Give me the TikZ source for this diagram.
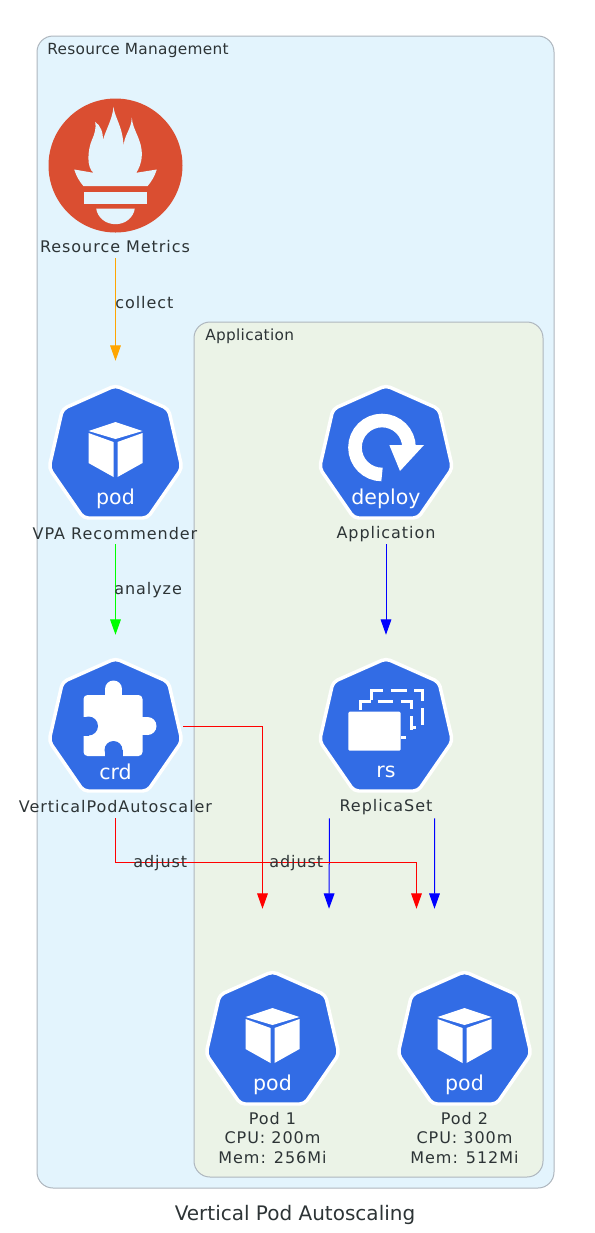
\documentclass[tikz,border=0pt]{standalone}
\usepackage{fontspec}
\setmainfont{DejaVu Sans}
\newfontfamily\widefont[LetterSpace=6]{DejaVu Sans}
\newfontfamily\clusterfont[LetterSpace=2]{DejaVu Sans}
\usetikzlibrary{arrows.meta}

\definecolor{kubeblue}{HTML}{326CE5}
\definecolor{promred}{HTML}{DA4E31}
\definecolor{outerfill}{HTML}{E3F4FD}
\definecolor{innerfill}{HTML}{EBF3E7}
\definecolor{clusterline}{HTML}{AEB6BE}
\definecolor{textgray}{HTML}{2D3436}
\definecolor{collectline}{HTML}{FFA500}

\tikzset{
  cluster/.style={draw=clusterline,line width=0.75pt,rounded corners=12pt},
  clustertext/.style={anchor=west,inner sep=0pt,text=textgray,font=\clusterfont\fontsize{11.5}{13}\selectfont},
  nodetext/.style={align=center,inner sep=0pt,text=textgray,font=\widefont\fontsize{12}{14.3}\selectfont},
  edgetext/.style={anchor=west,inner sep=0pt,text=textgray,font=\widefont\fontsize{12}{14}\selectfont},
  icontext/.style={inner sep=0pt,text=white,font=\fontsize{15.4}{18}\selectfont},
  iconbox/.style={minimum width=101.25pt,minimum height=137.25pt,inner sep=0pt},
  flow/.style={line width=0.75pt,-{Triangle[length=11.5pt,width=8pt]}}
}

% blue seven sided badge, (0,0) is its middle
\newcommand{\kubehept}{%
  \draw[fill=kubeblue,draw=white,line width=2.6pt,rounded corners=3.5pt]
    (0,-66.5) -- (53,-43) -- (66.5,16) -- (32,66) -- (-32,66) -- (-66.5,16) -- (-53,-43) -- cycle;
}

\newcommand{\podicon}[3]{%
  \begin{scope}[shift={(#2,#3)}]
    \kubehept
    \fill[white] (0,-30) -- (27,-21) -- (0,-13) -- (-27,-21) -- cycle;
    \fill[white] (-27,-19) -- (-2,-10) -- (-2,25) -- (-27,11) -- cycle;
    \fill[white] (2,-10) -- (27,-19) -- (27,11) -- (2,25) -- cycle;
    \node[icontext] (#1tag) at (0,46.5) {pod};
  \end{scope}
}

\newcommand{\crdicon}[3]{%
  \begin{scope}[shift={(#2,#3)}]
    \kubehept
    \fill[white,rounded corners=3pt] (-32,-30) rectangle (27,31);
    \fill[white] (-2,-36) circle (8.5);
    \fill[white] (-10.5,-36) rectangle (6.5,-28);
    \fill[white] (32,1) circle (9);
    \fill[white] (24,-8) rectangle (32,10);
    \fill[kubeblue] (-27,1) circle (9.5);
    \fill[kubeblue] (-33,-8.5) rectangle (-27,10.5);
    \fill[kubeblue] (-2,25) circle (9);
    \fill[kubeblue] (-11,25) rectangle (7,32);
    \node[icontext] (#1tag) at (0,47) {crd};
  \end{scope}
}

\newcommand{\deployicon}[3]{%
  \begin{scope}[shift={(#2,#3)}]
    \kubehept
    \draw[white,line width=10.2pt] (-4,22.5) arc[start angle=90,end angle=360,radius=27];
    \fill[white] (3.3,-7) -- (38,-7) -- (14,19) -- cycle;
    \node[icontext] (#1tag) at (0,46.5) {deploy};
  \end{scope}
}

\newcommand{\rsicon}[3]{%
  \begin{scope}[shift={(#2,#3)}]
    \kubehept
    \fill[white,rounded corners=1pt] (-37.7,-13.3) rectangle (14.7,25.7);
    \draw[white,line width=2.25pt]
      (-26,-15) -- (-26,-23.3) -- (-15.3,-23.3)
      (-8.3,-23.3) -- (7.3,-23.3)
      (14.7,-23.3) -- (25.7,-23.3) -- (25.7,-15.7)
      (25.7,-9) -- (25.7,5)
      (25.7,2.3) -- (29.7,2.3)
      (14.7,12.7) -- (20,12.7)
      (-14.3,-25) -- (-14.3,-34.3) -- (-3.3,-34.3)
      (4.7,-34.3) -- (20.7,-34.3)
      (28,-34.3) -- (36.7,-34.3) -- (36.7,-24.3)
      (36.7,-16.7) -- (36.7,0);
    \node[icontext] (#1tag) at (0,47) {rs};
  \end{scope}
}

\newcommand{\promicon}[2]{%
  \begin{scope}[shift={(#1,#2)}]
    \fill[promred] (0,0) circle (67);
    \fill[outerfill] (-41.3,4) -- (-22,7.3)
      .. controls (-29,2) and (-28,-15) .. (-23.7,-25.3)
      .. controls (-21,-31) and (-19,-38) .. (-20.3,-43.7)
      .. controls (-15,-40) and (-12,-33) .. (-12.7,-24.7)
      .. controls (-11,-33) and (-3,-46) .. (-2,-58.7)
      .. controls (-1,-48) and (8,-38) .. (8,-18)
      .. controls (8,-30) and (16,-36) .. (16.3,-48)
      .. controls (17,-35) and (27,-26) .. (26.3,-10)
      .. controls (26,-2) and (23,4) .. (20.7,7.3)
      -- (41.3,4)
      .. controls (39,11) and (36,16) .. (32,20.7)
      -- (-32,20.7)
      .. controls (-36,16) and (-39,11) .. (-41.3,4) -- cycle;
    \fill[outerfill] (-31.7,26.7) rectangle (31.7,38);
    \fill[outerfill] (-19.3,43) -- (19.3,43)
      .. controls (18,52) and (10,58.7) .. (0,58.7)
      .. controls (-10,58.7) and (-18,52) .. (-19.3,43) -- cycle;
  \end{scope}
}

\begin{document}
\begin{tikzpicture}[x=0.75pt,y=-0.75pt]
\useasboundingbox (0,0) rectangle (594,1233);

% clusters
\draw[cluster,fill=outerfill] (37,36) rectangle (554,1188);
\draw[cluster,fill=innerfill] (194,322) rectangle (543,1177);
\node[clustertext] (mgmttitle) at (47,50) {Resource Management};
\node[clustertext] (apptitle) at (205,336) {Application};

% icons
\promicon{115.5}{165.5}
\podicon{vpa}{115.5}{452}
\crdicon{crd}{115.5}{725}
\deployicon{app}{386}{452}
\rsicon{rs}{386}{725}
\podicon{podone}{272.5}{1038}
\podicon{podtwo}{464.5}{1038}

% boxes the arrows run between
\node[iconbox] (metrics) at (115.5,166) {};
\node[iconbox] (vpabox) at (115.5,452.5) {};
\node[iconbox] (crdbox) at (115.5,726.5) {};
\node[iconbox] (appbox) at (386,452.5) {};
\node[iconbox] (rsbox) at (386,726.5) {};
\node[iconbox] (podonebox) at (272.5,1000.5) {};
\node[iconbox] (podtwobox) at (464.5,1000.5) {};

% captions
\node[nodetext] (metricstext) at (115,247) {Resource Metrics};
\node[nodetext] (vpatext) at (115,534) {VPA Recommender};
\node[nodetext] (crdtext) at (115.5,807) {VerticalPodAutoscaler};
\node[nodetext] (apptext) at (386,534) {Application};
\node[nodetext] (rstext) at (386,807) {ReplicaSet};
\node[nodetext] (podonetext) at (272.5,1138) {Pod 1\\CPU: 200m\\Mem: 256Mi};
\node[nodetext] (podtwotext) at (464.5,1138) {Pod 2\\CPU: 300m\\Mem: 512Mi};

% arrows
\draw[flow,collectline] (metrics.south) -- (vpabox.north);
\draw[flow,green] (vpabox.south) -- (crdbox.north);
\draw[flow,blue] (appbox.south) -- (rsbox.north);
\draw[flow,blue] ([xshift=-42.4pt]rsbox.south) -- ([xshift=42.4pt]podonebox.north);
\draw[flow,blue] ([xshift=36.4pt]rsbox.south) -- ([xshift=-22.5pt]podtwobox.north);
\draw[flow,red] (crdbox.east) -| ([xshift=-7.5pt]podonebox.north);
\draw[flow,red] (crdbox.south) |- (300,862) -| ([xshift=-36pt]podtwobox.north);

\node[edgetext] (collect) at (115,303) {collect};
\node[edgetext] (analyze) at (114,590) {analyze};
\node[edgetext] (adjustone) at (133,863) {adjust};
\node[edgetext] (adjusttwo) at (269,863) {adjust};

\node[inner sep=0pt,text=textgray,font=\fontsize{15}{17}\selectfont] (diagramtitle) at (295,1215) {Vertical Pod Autoscaling};
\end{tikzpicture}
\end{document}
